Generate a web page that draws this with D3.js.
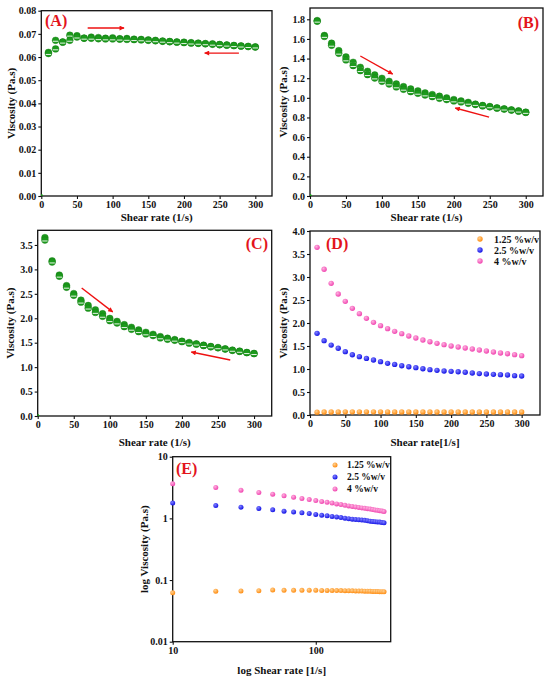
<!DOCTYPE html>
<html><head><meta charset="utf-8">
<script src="https://cdn.jsdelivr.net/npm/d3@7"></script>
<style>
body{margin:0;background:#fff}
text{font-family:"Liberation Serif","Times New Roman",serif;font-weight:bold;fill:#111}
</style>
</head><body>
<svg id="chart" width="550" height="682"></svg>
<script>
// ---------- DATA ----------
const shearRate = [0,10,20,30,40,50,60,70,80,90,100,110,120,130,140,150,160,170,180,190,200,210,220,230,240,250,260,270,280,290,300];
const viscA_up   = [0,0.0620,0.0672,0.0665,0.0694,0.0692,0.0682,0.0686,0.0684,0.0681,0.0683,0.0679,0.0680,0.0677,0.0676,0.0674,0.0672,0.0669,0.0667,0.0665,0.0664,0.0662,0.0660,0.0658,0.0657,0.0654,0.0652,0.0650,0.0648,0.0646,0.0644];
const viscA_down = [0,0.0615,0.0635,0.0664,0.0672,0.0686,0.0681,0.0681,0.0679,0.0678,0.0678,0.0677,0.0676,0.0675,0.0674,0.0672,0.0670,0.0668,0.0666,0.0664,0.0662,0.0660,0.0659,0.0657,0.0655,0.0653,0.0651,0.0649,0.0647,0.0645,0.0643];
const viscB_up   = [0,1.787,1.635,1.556,1.480,1.416,1.362,1.311,1.270,1.233,1.199,1.168,1.141,1.114,1.090,1.070,1.050,1.033,1.016,0.999,0.982,0.968,0.954,0.936,0.922,0.911,0.898,0.888,0.877,0.867,0.854];
const viscB_down = [0,1.780,1.625,1.535,1.454,1.386,1.328,1.277,1.236,1.202,1.168,1.141,1.111,1.087,1.063,1.046,1.029,1.012,0.995,0.982,0.968,0.958,0.944,0.932,0.918,0.908,0.895,0.885,0.875,0.864,0.851];
const viscC_up   = [0,3.650,3.175,2.884,2.668,2.505,2.370,2.261,2.173,2.092,1.997,1.936,1.869,1.815,1.760,1.713,1.672,1.625,1.591,1.564,1.530,1.503,1.476,1.449,1.422,1.401,1.374,1.347,1.327,1.300,1.280];
const viscC_down = [0,3.600,3.150,2.860,2.634,2.471,2.329,2.207,2.119,2.039,1.950,1.903,1.828,1.774,1.726,1.679,1.645,1.598,1.571,1.550,1.520,1.490,1.470,1.440,1.415,1.395,1.370,1.343,1.322,1.296,1.276];

const shearRateConc = [10,20,30,40,50,60,70,80,90,100,110,120,130,140,150,160,170,180,190,200,210,220,230,240,250,260,270,280,290,300];
const conc125 = [0.062,0.066,0.0665,0.067,0.069,0.068,0.068,0.068,0.068,0.068,0.0678,0.0677,0.0676,0.0675,0.0674,0.0672,0.0670,0.0668,0.0666,0.0664,0.0662,0.0660,0.0658,0.0656,0.0654,0.0652,0.0650,0.0648,0.0646,0.0644];
const conc25  = [1.775,1.616,1.520,1.450,1.377,1.310,1.268,1.230,1.196,1.160,1.123,1.100,1.072,1.050,1.029,1.007,0.986,0.971,0.957,0.949,0.940,0.928,0.913,0.900,0.890,0.884,0.877,0.870,0.855,0.848];
const conc4   = [3.645,3.167,2.862,2.630,2.471,2.319,2.203,2.101,2.014,1.942,1.877,1.819,1.768,1.717,1.674,1.630,1.594,1.558,1.529,1.500,1.478,1.457,1.435,1.413,1.391,1.370,1.348,1.333,1.312,1.290];

const seriesNames = ["1.25 %w/v","2.5 %w/v","4 %w/v"];
const seriesColors = ["#ff8c10","#1414e6","#f046b0"];
const seriesLight  = ["#ffd090","#8080ff","#ffb0e0"];

const xTicksLin = [0,50,100,150,200,250,300];
const yTicksA = [0,0.01,0.02,0.03,0.04,0.05,0.06,0.07,0.08];
const yTicksB = [0,0.2,0.4,0.6,0.8,1.0,1.2,1.4,1.6,1.8];
const yTicksC = [0,0.5,1.0,1.5,2.0,2.5,3.0,3.5];
const yTicksD = [0,0.5,1.0,1.5,2.0,2.5,3.0,3.5,4.0];
const xTicksLog = [10,100];
const yTicksLog = [0.01,0.1,1,10];
const yLabelsLog = ["0.01","0.1","1","10"];

// arrows (data units): [x1,y1,x2,y2]
const arrowsA = [[65,0.0725,116,0.0725],[277,0.0617,229,0.0617]];
const arrowsB = [[70,1.426,115,1.242],[249,0.804,202,0.896]];
const arrowsC = [[61,2.62,104,2.13],[267,1.146,213,1.31]];

// ---------- DRAW ----------
const svg = d3.select("#chart");
const green = "#1c9a1c";

const defs = svg.append("defs");
defs.append("marker").attr("id","arr").attr("viewBox","0 0 10 10").attr("refX",9).attr("refY",5)
  .attr("markerWidth",6).attr("markerHeight",5).attr("markerUnits","userSpaceOnUse").attr("orient","auto")
  .append("path").attr("d","M0,0 L10,5 L0,10 z").attr("fill","#ee1111");
seriesColors.forEach((c,i)=>{
  const g = defs.append("radialGradient").attr("id","ball"+i).attr("cx","38%").attr("cy","35%").attr("r","65%");
  g.append("stop").attr("offset","0%").attr("stop-color",seriesLight[i]);
  g.append("stop").attr("offset","100%").attr("stop-color",c);
});

function styleAxis(g){
  g.select(".domain").remove();
  g.selectAll(".tick line").attr("stroke","#111").attr("stroke-width",1.1);
  g.selectAll(".tick text").style("font-size","10px").style("font-family",'"Liberation Serif",serif').style("font-weight","bold").attr("fill","#111");
}

function panel(o){
  const g = svg.append("g");
  const x = (o.log ? d3.scaleLog() : d3.scaleLinear()).domain(o.xd).range([o.l,o.r]);
  const y = (o.ylog ? d3.scaleLog() : d3.scaleLinear()).domain(o.yd).range([o.b,o.t]);
  const clipId = "clip"+o.id;
  defs.append("clipPath").attr("id",clipId).append("rect")
    .attr("x",o.l).attr("y",o.t).attr("width",o.r-o.l).attr("height",o.b-o.t);
  const gx = g.append("g").attr("transform",`translate(0,${o.b})`)
    .call(d3.axisBottom(x).tickValues(o.xt).tickSize(3).tickPadding(2).tickFormat(o.xf));
  styleAxis(gx);
  const gy = g.append("g").attr("transform",`translate(${o.l},0)`)
    .call(d3.axisLeft(y).tickValues(o.yt).tickSize(3).tickPadding(2).tickFormat(o.yf));
  styleAxis(gy);
  g.append("rect").attr("x",o.l).attr("y",o.t).attr("width",o.r-o.l).attr("height",o.b-o.t)
    .attr("fill","none").attr("stroke","#111").attr("stroke-width",1.3);
  g.append("text").attr("x",(o.l+o.r)/2).attr("y",o.xty).attr("text-anchor","middle")
    .style("font-size","11px").text(o.xtitle);
  g.append("text").attr("transform",`translate(${o.ytx},${(o.t+o.b)/2}) rotate(-90)`)
    .attr("text-anchor","middle").attr("dy","0.35em").style("font-size","11px").text(o.ytitle);
  g.append("text").attr("x",o.lx).attr("y",o.ly).attr("text-anchor",o.la||"start")
    .style("font-size","16px").style("fill","#e3141c").text(o.label);
  const plot = g.append("g");
  if (!o.noclip) plot.attr("clip-path",`url(#${clipId})`);
  return {x,y,plot,g};
}

function greenMarks(p, xs, ys){
  const grp = p.plot.append("g");
  xs.forEach((xv,i)=>{
    const cx = p.x(xv), cy = p.y(ys[i]);
    if (xv===0){
      grp.append("circle").attr("cx",cx).attr("cy",cy).attr("r",1.8).attr("fill",green);
      return;
    }
    grp.append("circle").attr("cx",cx).attr("cy",cy).attr("r",3.4).attr("fill",green).attr("stroke","#137a13").attr("stroke-width",0.4);
    grp.append("line").attr("x1",cx-2.7).attr("x2",cx+2.7).attr("y1",cy+0.9).attr("y2",cy+0.9)
      .attr("stroke","#fff").attr("stroke-width",0.9);
  });
}

function arrows(p, arr){
  arr.forEach(a=>{
    p.g.append("line").attr("x1",p.x(a[0])).attr("y1",p.y(a[1])).attr("x2",p.x(a[2])).attr("y2",p.y(a[3]))
      .attr("stroke","#ee1111").attr("stroke-width",1.4).attr("marker-end","url(#arr)");
  });
}

function balls(p, xs, ys, i, r){
  p.plot.append("g").selectAll("circle").data(xs).join("circle")
    .attr("cx",d=>p.x(d)).attr("cy",(d,k)=>p.y(ys[k])).attr("r",r)
    .attr("fill",`url(#ball${i})`);
}

function legend(p, lx, ly, dy, r, gap, fs){
  seriesNames.forEach((n,i)=>{
    p.g.append("circle").attr("cx",lx).attr("cy",ly+i*dy).attr("r",r).attr("fill",`url(#ball${i})`);
    p.g.append("text").attr("x",lx+gap).attr("y",ly+i*dy).attr("dy","0.35em").style("font-size",fs+"px").text(n);
  });
}

const fmtInt = d3.format("d");

// Panel A
const pA = panel({id:"A",l:41.3,r:272,t:10.7,b:196,xd:[0,323.4],yd:[0,0.08],xt:xTicksLin,yt:yTicksA,
  xf:fmtInt,yf:d3.format(".2f"),xty:221,ytx:11,xtitle:"Shear rate (1/s)",ytitle:"Viscosity (Pa.s)",
  label:"(A)",lx:45,ly:26});
greenMarks(pA, shearRate, viscA_up);
greenMarks(pA, shearRate, viscA_down);
arrows(pA, arrowsA);

// Panel B
const pB = panel({id:"B",l:310,r:543,t:8,b:196,xd:[0,324],yd:[0,1.915],xt:xTicksLin,yt:yTicksB,
  xf:fmtInt,yf:d3.format(".1f"),xty:221,ytx:283,xtitle:"Shear rate (1/s)",ytitle:"Viscosity (Pa.s)",
  label:"(B)",lx:539,ly:28,la:"end"});
greenMarks(pB, shearRate, viscB_up);
greenMarks(pB, shearRate, viscB_down);
arrows(pB, arrowsB);

// Panel C
const pC = panel({id:"C",l:37.7,r:271.7,t:230.3,b:416,xd:[0,324.5],yd:[0,3.8],xt:xTicksLin,yt:yTicksC,
  xf:fmtInt,yf:d3.format(".1f"),xty:446,ytx:10,xtitle:"Shear rate (1/s)",ytitle:"Viscosity (Pa.s)",
  label:"(C)",lx:268,ly:249,la:"end"});
greenMarks(pC, shearRate, viscC_up);
greenMarks(pC, shearRate, viscC_down);
arrows(pC, arrowsC);

// Panel D
const pD = panel({id:"D",l:310,r:540,t:231,b:415,xd:[0,326],yd:[0,4.0],xt:xTicksLin,yt:yTicksD,
  xf:fmtInt,yf:d3.format(".1f"),xty:446,ytx:283,xtitle:"Shear rate[1/s]",ytitle:"Viscosity (Pa.s)",
  label:"(D)",lx:326,ly:249});
[conc125,conc25,conc4].forEach((s,i)=>balls(pD, shearRateConc, s, i, 2.7));
legend(pD, 480, 239, 11, 2.7, 14, 10);

// Panel E
const pE = panel({id:"E",l:172.7,r:390.7,t:456.7,b:641.7,log:true,ylog:true,xd:[10,334],yd:[0.01,10],
  xt:xTicksLog,yt:yTicksLog,xf:d=>String(d),yf:(d,i)=>yLabelsLog[i],xty:674,ytx:144,noclip:true,
  xtitle:"log Shear rate [1/s]",ytitle:"log Viscosity (Pa.s)",label:"(E)",lx:176,ly:474});
[conc125,conc25,conc4].forEach((s,i)=>balls(pE, shearRateConc, s, i, 2.5));
legend(pE, 335, 465, 12, 2.5, 12, 9.5);
</script>
</body></html>
